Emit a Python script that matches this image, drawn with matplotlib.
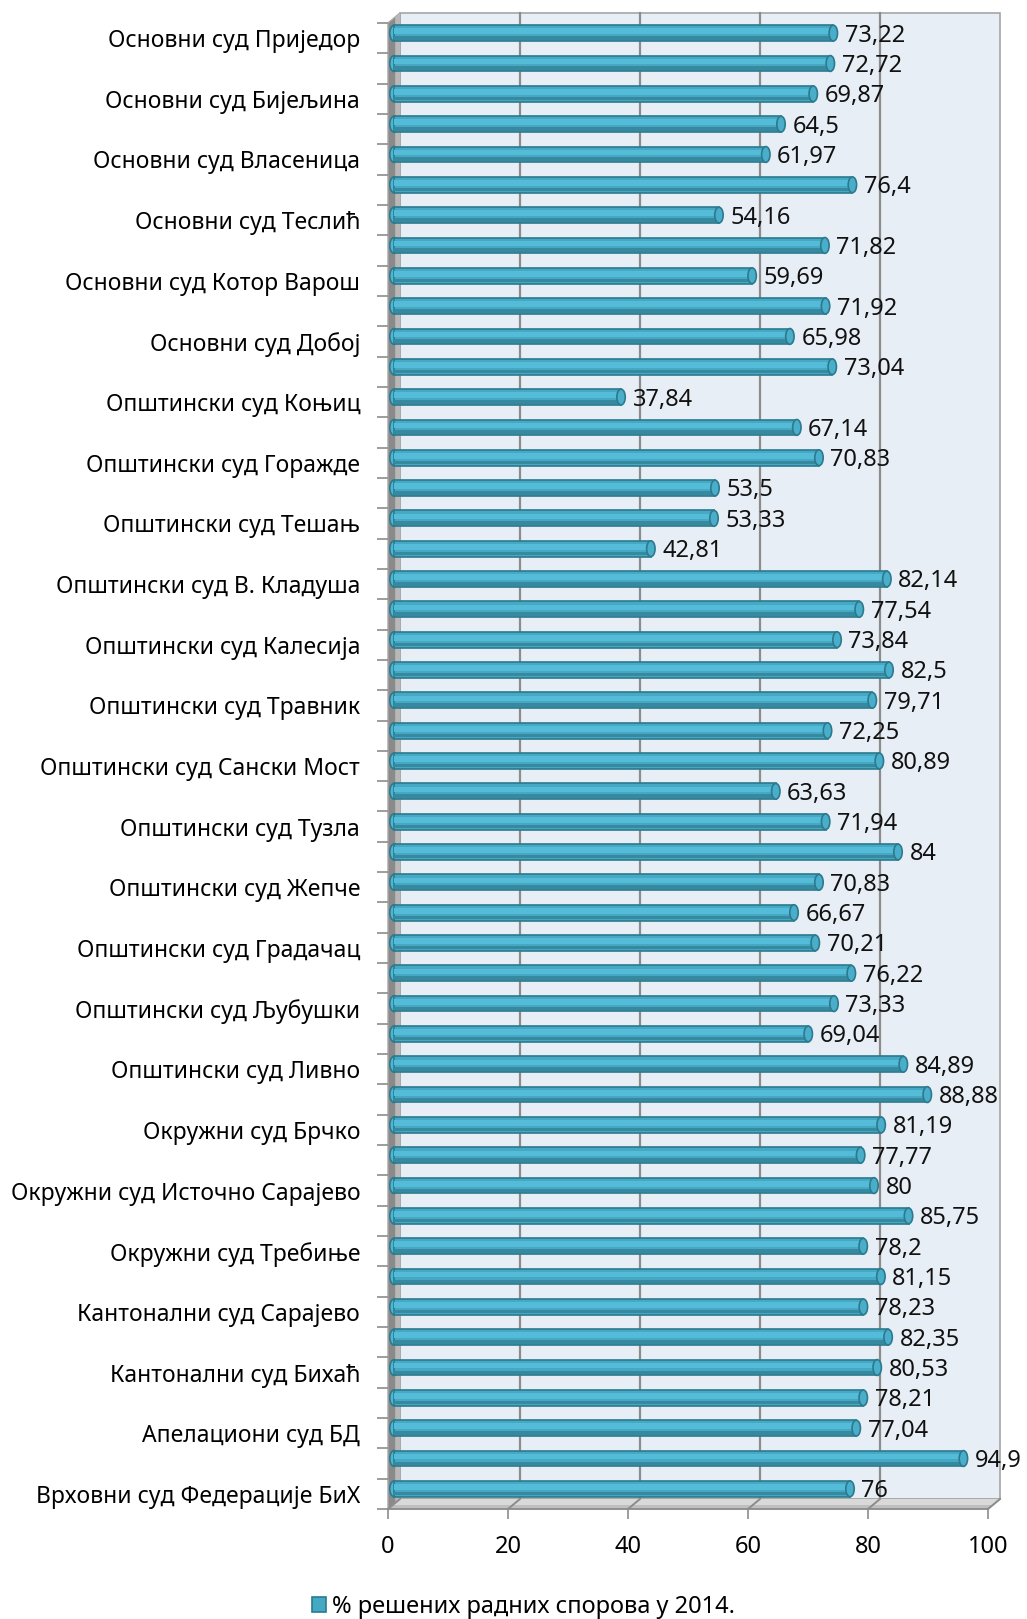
import matplotlib
matplotlib.use('Agg')
import matplotlib.pyplot as plt
from matplotlib.patches import Polygon, Rectangle, Ellipse
import numpy as np

plt.rcParams['font.family'] = ['Noto Sans', 'DejaVu Sans']

# every second court name is hidden in the original chart
categories = [
    'Основни суд Приједор', '', 'Основни суд Бијељина', '', 'Основни суд Власеница', '',
    'Основни суд Теслић', '', 'Основни суд Котор Варош', '', 'Основни суд Добој', '',
    'Општински суд Коњиц', '', 'Општински суд Горажде', '', 'Општински суд Тешањ', '',
    'Општински суд В. Кладуша', '', 'Општински суд Калесија', '', 'Општински суд Травник', '',
    'Општински суд Сански Мост', '', 'Општински суд Тузла', '', 'Општински суд Жепче', '',
    'Општински суд Градачац', '', 'Општински суд Љубушки', '', 'Општински суд Ливно', '',
    'Окружни суд Брчко', '', 'Окружни суд Источно Сарајево', '', 'Окружни суд Требиње', '',
    'Кантонални суд Сарајево', '', 'Кантонални суд Бихаћ', '', 'Апелациони суд БД', '',
    'Врховни суд Федерације БиХ',
]
values = [
    73.22, 72.72, 69.87, 64.5, 61.97, 76.4, 54.16, 71.82, 59.69, 71.92,
    65.98, 73.04, 37.84, 67.14, 70.83, 53.5, 53.33, 42.81, 82.14, 77.54,
    73.84, 82.5, 79.71, 72.25, 80.89, 63.63, 71.94, 84, 70.83, 66.67,
    70.21, 76.22, 73.33, 69.04, 84.89, 88.88, 81.19, 77.77, 80, 85.75,
    78.2, 81.15, 78.23, 82.35, 80.53, 78.21, 77.04, 94.9, 76,
]
series_name = '% решених радних спорова у 2014.'
xticks = [0, 20, 40, 60, 80, 100]

n = len(values)
ypos = np.arange(n)

# 3d depth of the excel chart, in data units
DX = 12 / 6.0
DY = 10 / 30.3

fig = plt.figure(figsize=(10.27, 16.19), dpi=100)
ax = fig.add_axes([388 / 1027, (1619 - 1509) / 1619, 600 / 1027, 1486 / 1619])
ax.set_xlim(0, 100)
ax.set_ylim(n - 0.5, -0.5)
ax.patch.set_visible(False)
for s in ['top', 'right', 'left']:
    ax.spines[s].set_visible(False)
ax.spines['bottom'].set_color('#8c8c8c')
ax.spines['bottom'].set_linewidth(1.2)

top, bot = -0.5, n - 0.5

# back wall
ax.add_patch(Rectangle((DX, top - DY), 100, n, facecolor='#e8eef5', edgecolor='#a6a6a6',
                       lw=1.2, zorder=0, clip_on=False))
for v in xticks[1:-1]:
    ax.plot([v + DX, v + DX], [top - DY, bot - DY], color='#8c8c8c', lw=1.6, zorder=0.5, clip_on=False)
# floor
ax.add_patch(Polygon([(0, bot), (100, bot), (100 + DX, bot - DY), (DX, bot - DY)],
                     facecolor='#bfbfbf', edgecolor='#a6a6a6', lw=1, zorder=0.6, clip_on=False))
ax.add_patch(Polygon([(DX * 0.4, bot - DY * 0.4), (100 + DX * 0.4, bot - DY * 0.4),
                      (100 + DX, bot - DY), (DX, bot - DY)],
                     facecolor='#d9d9d9', lw=0, zorder=0.62, clip_on=False))
for v in xticks:
    ax.plot([v, v + DX], [bot, bot - DY], color='#8c8c8c', lw=1.4, zorder=0.7, clip_on=False)
# left wall
ax.add_patch(Polygon([(0, top), (DX, top - DY), (DX, bot - DY), (0, bot)],
                     facecolor='#8a8a8a', edgecolor='#a6a6a6', lw=1, zorder=0.6, clip_on=False))
ax.add_patch(Polygon([(DX * 0.6, top - DY * 0.6), (DX, top - DY), (DX, bot - DY), (DX * 0.6, bot - DY * 0.6)],
                     facecolor='#b8b8b8', lw=0, zorder=0.65, clip_on=False))

# bars sit in the middle of the depth
by = ypos - DY / 2
bh = 0.52
bars = ax.barh(by, values, left=DX / 2, height=bh, color='#46a9c4', edgecolor='#2b7a8e',
               linewidth=1.2, zorder=2, label=series_name)
ax.barh(by - bh * 0.12, values, left=DX / 2, height=bh * 0.36, color='#54bcd8', lw=0, zorder=2.1)
ax.barh(by + bh * 0.3, values, left=DX / 2, height=bh * 0.22, color='#3789a0', lw=0, zorder=2.1)
for y, v in zip(by, values):
    ax.add_patch(Ellipse((DX / 2, y), 1.4, bh, facecolor='#4fb6d2', edgecolor='#2b7a8e', lw=1.2, zorder=1.9))
    ax.add_patch(Ellipse((v + DX / 2, y), 1.4, bh, facecolor='#4aaecb', edgecolor='#2b7a8e', lw=1.2, zorder=2.2))
    ax.text(v + DX / 2 + 1.9, y + 0.08, f'{v:g}'.replace('.', ','), va='center', ha='left',
            fontsize=17, color='#111111', zorder=3)

# y axis: ticks at the row borders, names at every other row
ax.set_yticks(np.arange(n + 1) - 0.5)
ax.set_yticklabels([])
ax.set_yticks(ypos, minor=True)
ax.set_yticklabels(categories, minor=True, fontsize=16.5)
ax.tick_params(axis='y', which='major', length=8, width=1.2, color='#8c8c8c', direction='out')
ax.tick_params(axis='y', which='minor', length=0, pad=20)

ax.set_xticks(xticks)
ax.set_xticklabels([str(t) for t in xticks], fontsize=17)
ax.tick_params(axis='x', length=7, width=1.2, color='#8c8c8c', pad=12)

fig.legend(handles=[bars], labels=[series_name], loc='center', bbox_to_anchor=(0.51, 0.0075),
           frameon=False, fontsize=17, handlelength=0.6, handleheight=0.6, handletextpad=0.25)

fig.savefig('out.png', dpi=100)
